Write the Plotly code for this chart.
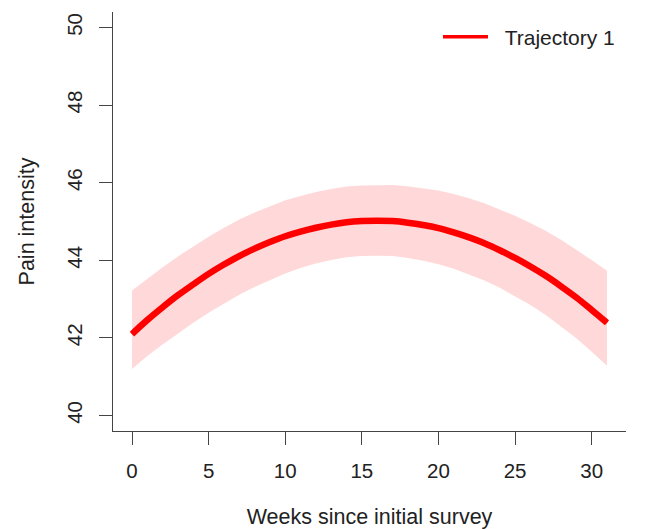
import plotly.graph_objects as go

weeks = list(range(0, 32))
mean_pain = [42.10, 42.46, 42.79, 43.10, 43.38, 43.65, 43.89, 44.11, 44.30, 44.47,
             44.62, 44.74, 44.84, 44.92, 44.98, 45.01, 45.02, 45.01, 44.97, 44.91,
             44.83, 44.72, 44.59, 44.44, 44.26, 44.06, 43.84, 43.60, 43.33, 43.04,
             42.72, 42.39]
upper_ci = [43.22, 43.53, 43.82, 44.10, 44.36, 44.61, 44.84, 45.05, 45.23, 45.40,
            45.55, 45.66, 45.76, 45.84, 45.90, 45.93, 45.94, 45.94, 45.91, 45.86,
            45.80, 45.71, 45.60, 45.47, 45.32, 45.15, 44.96, 44.76, 44.53, 44.28,
            44.01, 43.73]
lower_ci = [41.20, 41.53, 41.83, 42.12, 42.39, 42.65, 42.89, 43.11, 43.31, 43.49,
            43.66, 43.80, 43.92, 44.01, 44.08, 44.11, 44.12, 44.11, 44.06, 43.99,
            43.90, 43.78, 43.64, 43.48, 43.29, 43.08, 42.85, 42.59, 42.30, 41.99,
            41.64, 41.28]
x_ticks = [0, 5, 10, 15, 20, 25, 30]
y_ticks = [40, 42, 44, 46, 48, 50]
series_name = "Trajectory 1"
x_title = "Weeks since initial survey"
y_title = "Pain intensity"

FONT = "Liberation Sans, Arial, Helvetica, sans-serif"
TXT = "#222222"
AX = "#444444"

fig = go.Figure()
fig.add_trace(go.Scatter(x=weeks, y=lower_ci, mode="lines", line=dict(width=0),
                         showlegend=False, hoverinfo="skip"))
fig.add_trace(go.Scatter(x=weeks, y=upper_ci, mode="lines", line=dict(width=0),
                         fill="tonexty", fillcolor="rgba(255,0,0,0.15)",
                         showlegend=False, hoverinfo="skip"))
# thin copy of the trajectory, hidden under the thick line, supplies the legend key
fig.add_trace(go.Scatter(x=weeks, y=mean_pain, mode="lines",
                         name="\u00a0\u00a0" + series_name, showlegend=True,
                         line=dict(color="#ff0000", width=3.5, shape="spline"),
                         hoverinfo="skip"))
fig.add_trace(go.Scatter(x=weeks, y=mean_pain, mode="lines", name=series_name,
                         showlegend=False,
                         line=dict(color="#ff0000", width=6.5, shape="spline")))

fig.update_layout(
    width=649, height=529,
    margin=dict(l=113, r=23, t=12, b=98),
    paper_bgcolor="white", plot_bgcolor="white",
    font=dict(family=FONT, color=TXT, size=21),
    showlegend=True,
    legend=dict(x=0.6335, y=0.9403, xanchor="left", yanchor="middle",
                bgcolor="rgba(0,0,0,0)", borderwidth=0, itemwidth=45,
                font=dict(size=21, family=FONT, color=TXT)),
    xaxis=dict(range=[-1.24, 32.24], tickvals=x_ticks, ticks="outside", ticklen=13,
               tickwidth=1.3, tickcolor=AX, showline=True, linecolor=AX, linewidth=1.3,
               showgrid=False, zeroline=False, tickfont=dict(size=20.5),
               ticklabelstandoff=8, automargin=False,
               title=dict(text=x_title, font=dict(size=21.5), standoff=28)),
    yaxis=dict(range=[39.6, 50.4], tickvals=y_ticks, ticks="outside", ticklen=13,
               tickwidth=1.3, tickcolor=AX, showline=True, linecolor=AX, linewidth=1.3,
               showgrid=False, zeroline=False, tickfont=dict(size=20.5), tickangle=-90,
               ticklabelstandoff=9, automargin=False,
               title=dict(text=y_title, font=dict(size=21.5), standoff=22)),
)

fig.write_html("out.html")
